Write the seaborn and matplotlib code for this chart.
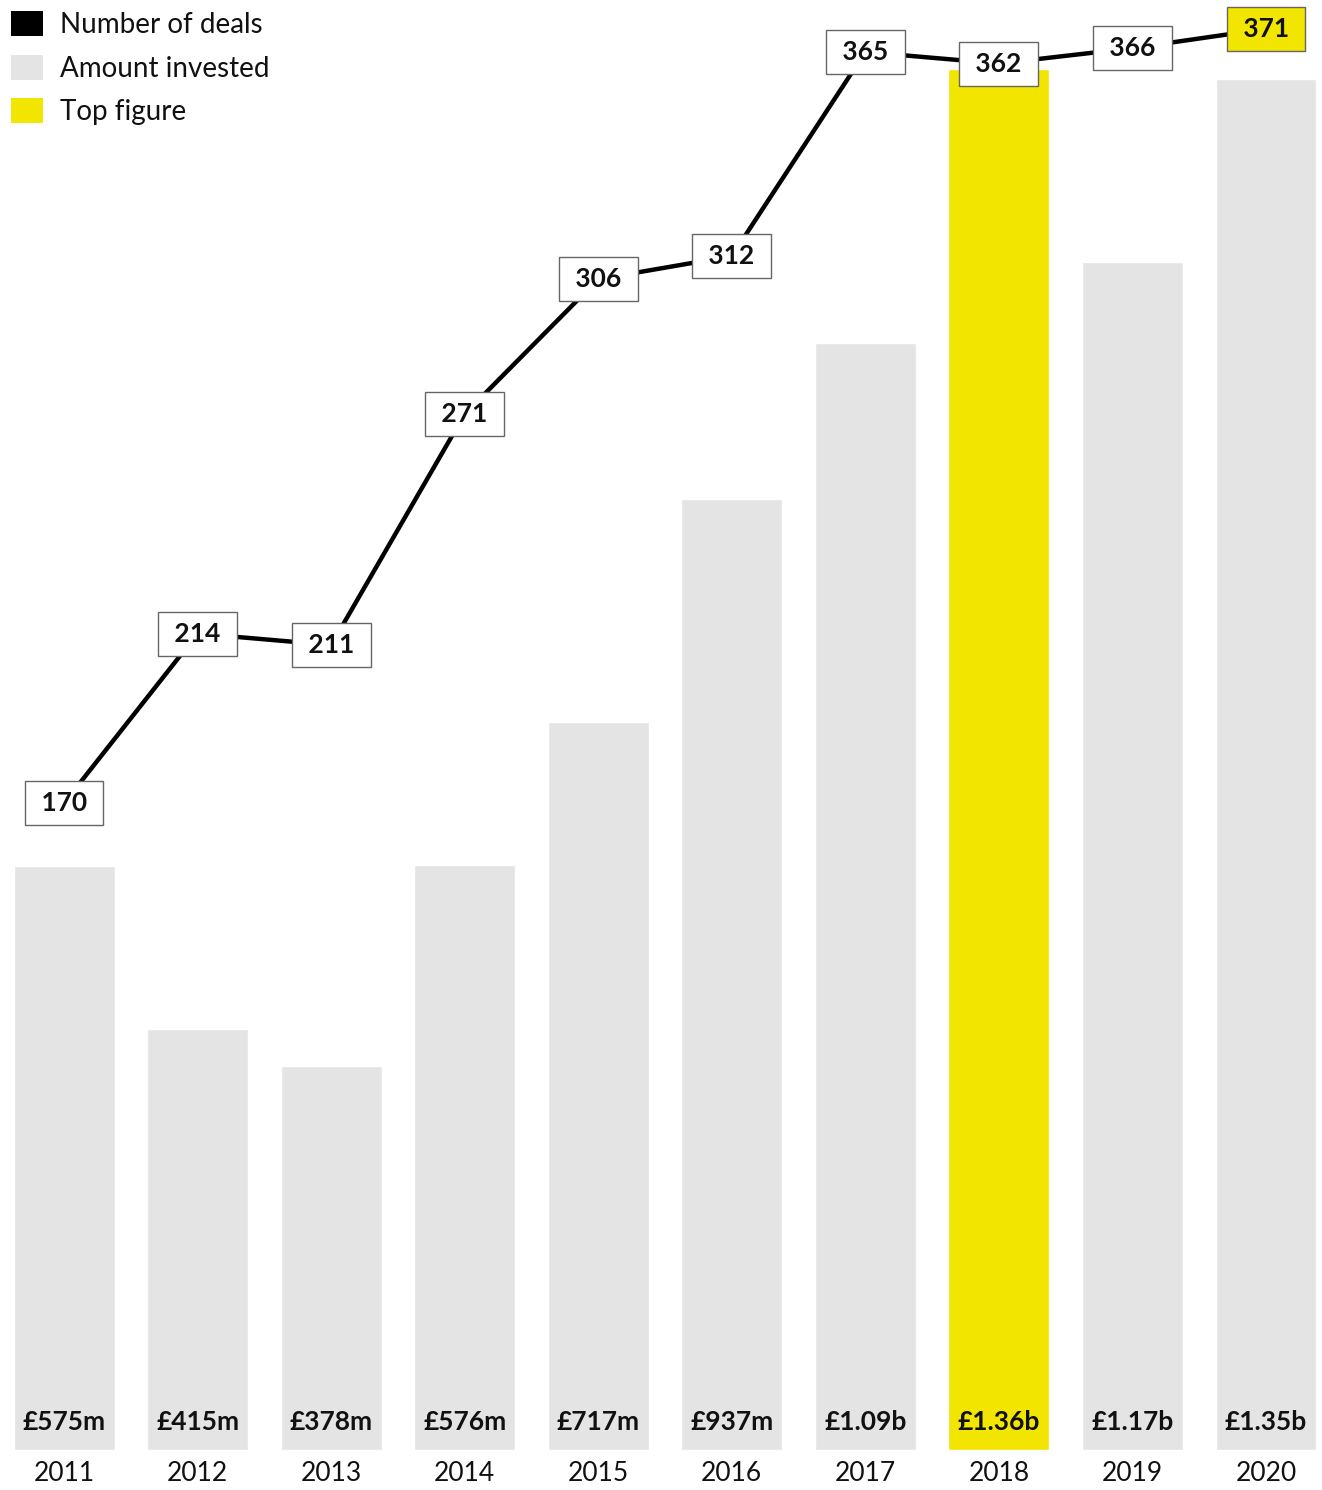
import numpy as np
import pandas as pd
import seaborn as sns
import matplotlib.pyplot as plt
from matplotlib.patches import Patch

years = ['2011', '2012', '2013', '2014', '2015', '2016', '2017', '2018', '2019', '2020']
amounts = [575, 415, 378, 576, 717, 937, 1090, 1360, 1170, 1350]
amount_labels = ['£575m', '£415m', '£378m', '£576m', '£717m', '£937m',
                 '£1.09b', '£1.36b', '£1.17b', '£1.35b']
deals = [170, 214, 211, 271, 306, 312, 365, 362, 366, 371]

GREY = '#e4e4e4'
YELLOW = '#f2e500'

sns.set_theme(style='white')
plt.rcParams['font.family'] = ['Lato', 'DejaVu Sans']

df = pd.DataFrame({'year': years, 'amount': amounts, 'deals': deals})
top_amount = df['amount'].idxmax()
top_deals = df['deals'].idxmax()
palette = {y: (YELLOW if i == top_amount else GREY) for i, y in enumerate(years)}

fig = plt.figure(figsize=(13.22, 14.9), dpi=100)
ax = fig.add_axes([0, 40 / 1490, 1, 1450 / 1490])

sns.barplot(data=df, x='year', y='amount', hue='year', palette=palette,
            width=0.755, legend=False, ax=ax, saturation=1)
ax.set_xlim(-0.48, 9.42)
ax.set_ylim(0, 1428)
ax.set_xlabel('')
ax.set_ylabel('')
ax.set_yticks([])
ax.tick_params(axis='x', length=0, pad=8, labelsize=19)
for lab in ax.get_xticklabels():
    lab.set_color('#111111')
sns.despine(ax=ax, left=True, bottom=True)

for i, lab in enumerate(amount_labels):
    ax.text(i, 28, lab, ha='center', va='center', fontsize=19,
            fontweight='bold', color='#111111')

ax2 = ax.twinx()
sns.lineplot(x=np.arange(len(deals)), y=deals, ax=ax2, color='black',
             linewidth=3.2, zorder=2)
ax2.set_ylim(2, 378.5)
ax2.set_xlim(ax.get_xlim())
ax2.set_yticks([])
ax2.set_ylabel('')
sns.despine(ax=ax2, left=True, bottom=True, right=True)

for i, d in enumerate(deals):
    face = YELLOW if i == top_deals else 'white'
    ax2.text(i, d, f' {d} ', ha='center', va='center', fontsize=19,
             fontweight='bold', color='#111111', zorder=5,
             bbox=dict(boxstyle='square,pad=0.38', facecolor=face,
                       edgecolor='#666666', linewidth=1))

handles = [Patch(facecolor='black', edgecolor='none'),
           Patch(facecolor=GREY, edgecolor='none'),
           Patch(facecolor=YELLOW, edgecolor='none')]
leg = ax2.legend(handles, ['Number of deals', 'Amount invested', 'Top figure'],
                 loc='upper left', bbox_to_anchor=(0.0, 1.0), frameon=False,
                 fontsize=20, handlelength=1.15, handleheight=1.0,
                 handletextpad=0.62, labelspacing=0.6, borderaxespad=0.0,
                 borderpad=0.4)
for t in leg.get_texts():
    t.set_color('#111111')

fig.savefig('out.png', dpi=100)
